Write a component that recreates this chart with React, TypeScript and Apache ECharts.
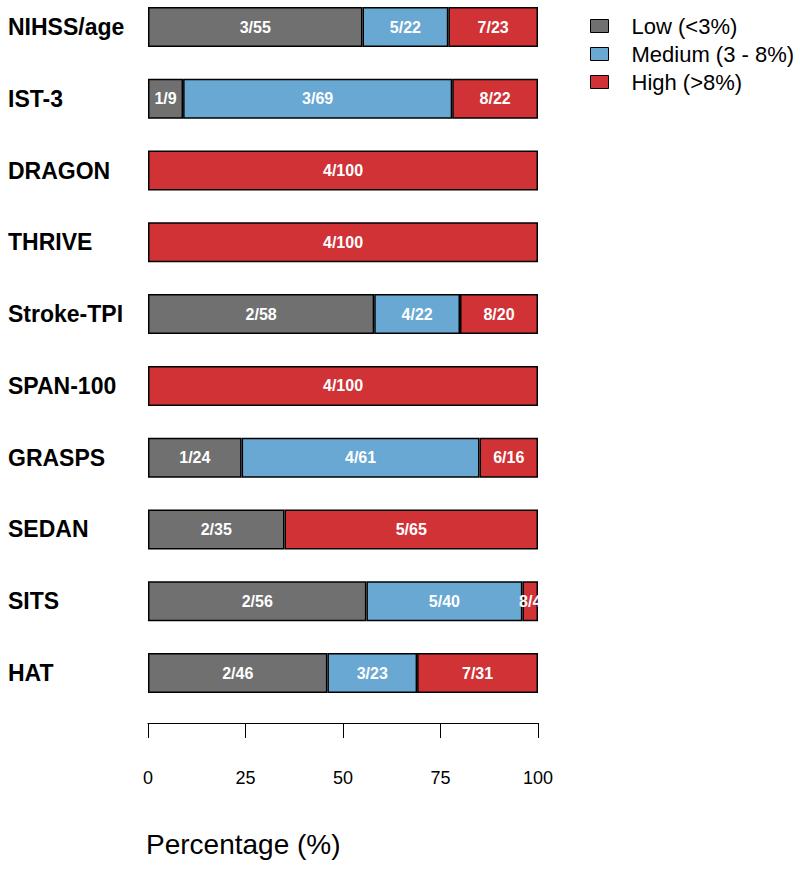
import React, { useEffect, useRef } from "react";
import * as echarts from "echarts";

const categories = ["NIHSS/age", "IST-3", "DRAGON", "THRIVE", "Stroke-TPI", "SPAN-100", "GRASPS", "SEDAN", "SITS", "HAT"];
const seriesNames = ["Low (<3%)", "Medium (3 - 8%)", "High (>8%)"];
const lowValues = [55, 9, null, null, 58, null, 24, 35, 56, 46];
const mediumValues = [22, 69, null, null, 22, null, 61, null, 40, 23];
const highValues = [23, 22, 100, 100, 20, 100, 15, 65, 4, 31];
const lowLabels = ["3/55", "1/9", "", "", "2/58", "", "1/24", "2/35", "2/56", "2/46"];
const mediumLabels = ["5/22", "3/69", "", "", "4/22", "", "4/61", "", "5/40", "3/23"];
const highLabels = ["7/23", "8/22", "4/100", "4/100", "8/20", "4/100", "6/16", "5/65", "8/4", "7/31"];
const xTicks = [0, 25, 50, 75, 100];
const colors = ["#707070", "#68a8d3", "#d03236"];

export default function App() {
  const ref = useRef<HTMLDivElement>(null);
  useEffect(() => {
    if (!ref.current) return;
    const chart = echarts.init(ref.current, null, { renderer: "svg" });
    const font = "Liberation Sans, Arial, Helvetica, sans-serif";
    const mk = (i: number, values: (number | null)[], labels: string[]) => ({
      name: seriesNames[i],
      type: "bar",
      stack: "total",
      barWidth: 40,
      data: values,
      itemStyle: { color: colors[i], borderColor: "#000", borderWidth: 1.5 },
      label: {
        show: true,
        position: "inside",
        color: "#fff",
        fontWeight: "bold",
        fontSize: 16,
        fontFamily: font,
        formatter: (p: any) => labels[p.dataIndex],
      },
    });
    chart.setOption({
      animation: false,
      backgroundColor: "#fff",
      textStyle: { fontFamily: font },
      grid: { left: 148, right: 262, top: 27, bottom: 198, containLabel: false },
      legend: {
        data: seriesNames,
        orient: "vertical",
        left: 590,
        top: 15,
        padding: 0,
        icon: "rect",
        itemWidth: 18,
        itemHeight: 13,
        itemGap: 6,
        itemStyle: { borderColor: "#000", borderWidth: 1 },
        textStyle: { fontSize: 22, color: "#000", fontFamily: font, lineHeight: 22, padding: [0, 0, 0, 18] },
      },
      xAxis: {
        type: "value",
        min: xTicks[0],
        max: xTicks[xTicks.length - 1],
        interval: 25,
        offset: 50,
        axisLine: { show: true, lineStyle: { color: "#000", width: 1 } },
        axisTick: { show: true, length: 15, lineStyle: { color: "#000", width: 1 } },
        axisLabel: { color: "#000", fontSize: 18, margin: 46, fontFamily: font },
        splitLine: { show: false },
      },
      yAxis: {
        type: "category",
        inverse: true,
        boundaryGap: false,
        data: categories,
        axisLine: { show: false },
        axisTick: { show: false },
        axisLabel: { color: "#000", fontSize: 23, fontWeight: "bold", align: "left", margin: 140, fontFamily: font, interval: 0 },
      },
      graphic: [
        {
          type: "text",
          left: 146,
          top: 830,
          style: { text: "Percentage (%)", fontSize: 28, fill: "#000", font: `28px ${font}` },
        },
      ],
      series: [mk(0, lowValues, lowLabels), mk(1, mediumValues, mediumLabels), mk(2, highValues, highLabels)],
    });
    return () => chart.dispose();
  }, []);
  return <div ref={ref} style={{ position: "absolute", left: 0, top: 0, width: 800, height: 871 }} />;
}
